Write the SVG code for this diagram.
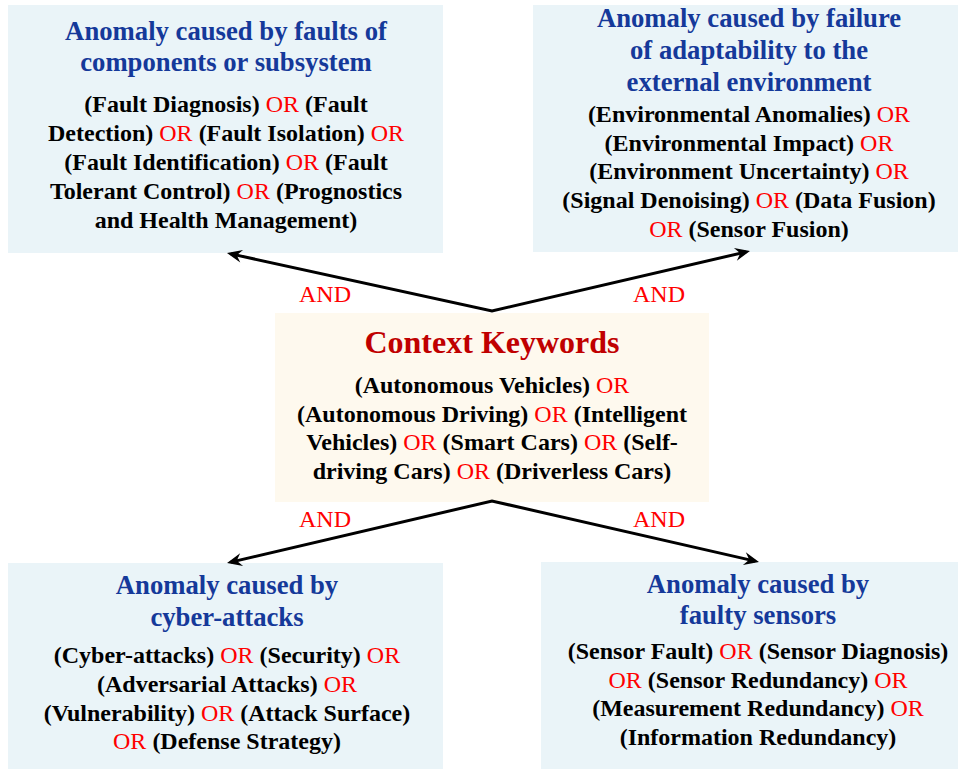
<svg xmlns="http://www.w3.org/2000/svg" width="958" height="769" viewBox="0 0 958 769">
<style>
  .box { fill: #EAF4F8; }
  .ctx { fill: #FEF9EE; }
  text { font-family: "Liberation Serif", "Times New Roman", serif; text-anchor: middle; }
  .ttl { font-size: 26.7px; font-weight: bold; fill: #15399A; }
  .bd { font-size: 24px; font-weight: bold; fill: #000; }
  .or { font-weight: normal; fill: #FF0000; }
  .and { font-size: 24px; fill: #FF0000; }
  .ctt { font-size: 32px; font-weight: bold; fill: #C00000; }
  .conn { fill: none; stroke: #000; stroke-width: 3; stroke-linejoin: miter; marker-start: url(#ah); marker-end: url(#ah); }
</style>
<defs>
  <marker id="ah" markerUnits="userSpaceOnUse" markerWidth="30" markerHeight="30" viewBox="-15 -15 30 30" refX="0" refY="0" orient="auto-start-reverse" overflow="visible">
    <path d="M4,0 L-11,-6.5 L-6,0 L-11,6.5 Z" fill="#000"/>
  </marker>
</defs>

<g id="node-faults">
  <rect class="box" x="8" y="5" width="435" height="248"/>
  <text class="ttl" x="226" y="40">Anomaly caused by faults of</text>
  <text class="ttl" x="226" y="71">components or subsystem</text>
  <text class="bd" x="226" y="112">(Fault Diagnosis) <tspan class="or">OR</tspan> (Fault</text>
  <text class="bd" x="226" y="141">Detection) <tspan class="or">OR</tspan> (Fault Isolation) <tspan class="or">OR</tspan></text>
  <text class="bd" x="226" y="170">(Fault Identification) <tspan class="or">OR</tspan> (Fault</text>
  <text class="bd" x="226" y="199">Tolerant Control) <tspan class="or">OR</tspan> (Prognostics</text>
  <text class="bd" x="226" y="228">and Health Management)</text>
</g>

<g id="node-environment">
  <rect class="box" x="533" y="5" width="425" height="247"/>
  <text class="ttl" x="749" y="27">Anomaly caused by failure</text>
  <text class="ttl" x="749" y="59">of adaptability to the</text>
  <text class="ttl" x="749" y="91">external environment</text>
  <text class="bd" x="749" y="122">(Environmental Anomalies) <tspan class="or">OR</tspan></text>
  <text class="bd" x="749" y="151">(Environmental Impact) <tspan class="or">OR</tspan></text>
  <text class="bd" x="749" y="179">(Environment Uncertainty) <tspan class="or">OR</tspan></text>
  <text class="bd" x="749" y="208">(Signal Denoising) <tspan class="or">OR</tspan> (Data Fusion)</text>
  <text class="bd" x="749" y="237"><tspan class="or">OR</tspan> (Sensor Fusion)</text>
</g>

<g id="node-context">
  <rect class="ctx" x="275" y="313" width="434" height="189"/>
  <text class="ctt" x="492" y="353">Context Keywords</text>
  <text class="bd" x="492" y="393">(Autonomous Vehicles) <tspan class="or">OR</tspan></text>
  <text class="bd" x="492" y="422">(Autonomous Driving) <tspan class="or">OR</tspan> (Intelligent</text>
  <text class="bd" x="492" y="450">Vehicles) <tspan class="or">OR</tspan> (Smart Cars) <tspan class="or">OR</tspan> (Self-</text>
  <text class="bd" x="492" y="479">driving Cars) <tspan class="or">OR</tspan> (Driverless Cars)</text>
</g>

<g id="node-cyber">
  <rect class="box" x="8" y="563" width="435" height="206"/>
  <text class="ttl" x="227" y="594">Anomaly caused by</text>
  <text class="ttl" x="227" y="626">cyber-attacks</text>
  <text class="bd" x="227" y="663">(Cyber-attacks) <tspan class="or">OR</tspan> (Security) <tspan class="or">OR</tspan></text>
  <text class="bd" x="227" y="692">(Adversarial Attacks) <tspan class="or">OR</tspan></text>
  <text class="bd" x="227" y="721">(Vulnerability) <tspan class="or">OR</tspan> (Attack Surface)</text>
  <text class="bd" x="227" y="749"><tspan class="or">OR</tspan> (Defense Strategy)</text>
</g>

<g id="node-sensors">
  <rect class="box" x="541" y="562" width="417" height="207"/>
  <text class="ttl" x="758" y="593">Anomaly caused by</text>
  <text class="ttl" x="758" y="624">faulty sensors</text>
  <text class="bd" x="758" y="659">(Sensor Fault) <tspan class="or">OR</tspan> (Sensor Diagnosis)</text>
  <text class="bd" x="758" y="688"><tspan class="or">OR</tspan> (Sensor Redundancy) <tspan class="or">OR</tspan></text>
  <text class="bd" x="758" y="716">(Measurement Redundancy) <tspan class="or">OR</tspan></text>
  <text class="bd" x="758" y="745">(Information Redundancy)</text>
</g>

<g id="connectors">
  <path class="conn" d="M230.9,253.9 L492,311 L746.1,251.9"/>
  <path class="conn" d="M230.9,562.1 L492,501 L755.1,561.1"/>
  <text class="and" x="325" y="302">AND</text>
  <text class="and" x="659" y="302">AND</text>
  <text class="and" x="325" y="527">AND</text>
  <text class="and" x="659" y="527">AND</text>
</g>
</svg>
